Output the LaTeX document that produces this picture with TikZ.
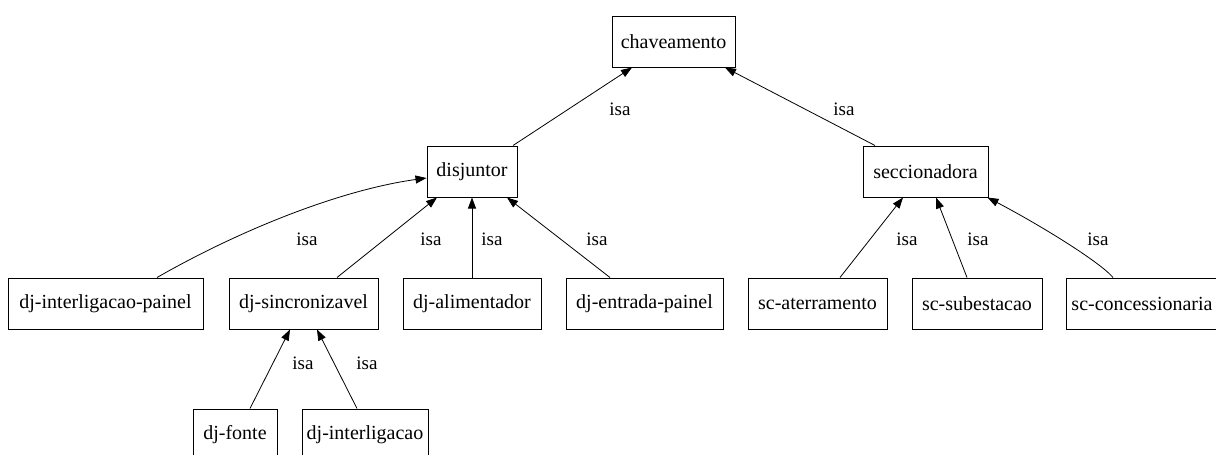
\documentclass[tikz,border=0pt]{standalone}
\usepackage{fontspec}
\setmainfont{Liberation Serif}
\usetikzlibrary{arrows.meta}
\tikzset{
  box/.style={draw=black, line width=1pt, inner sep=0pt, minimum height=51pt, font=\fontsize{20}{22}\selectfont, anchor=center},
  isaedge/.style={draw=black, line width=0.8pt, -{Triangle[length=11pt,width=8pt]}},
  lbl/.style={inner sep=0pt, font=\fontsize{19}{21}\selectfont}
}
\begin{document}
\begin{tikzpicture}[x=1pt,y=-1pt]
\useasboundingbox (0,0) rectangle (1216,455);
\clip (0,0) rectangle (1216,455);
\fill[white] (0,0) rectangle (1216,455);
% nodes
\node[box, minimum width=123pt] (chav) at (673.5,41.5) {chaveamento};
\node[box, minimum width=90pt] (disj) at (472,171.5) {disjuntor};
\node[box, minimum width=125pt] (secc) at (925.5,171.5) {seccionadora};
\node[box, minimum width=195pt] (djip) at (105.5,303.5) {dj-interligacao-painel};
\node[box, minimum width=149pt] (djs) at (303.5,303.5) {dj-sincronizavel};
\node[box, minimum width=138pt] (dja) at (472,303.5) {dj-alimentador};
\node[box, minimum width=157pt] (djep) at (644.5,303.5) {dj-entrada-painel};
\node[box, minimum width=139pt] (sca) at (817.5,303.5) {sc-aterramento};
\node[box, minimum width=130pt] (scs) at (977,303.5) {sc-subestacao};
\node[box, minimum width=164pt] (scc) at (1148,303.5) {\hspace*{-12pt}sc-concessionaria};
\node[box, minimum width=84pt] (djf) at (235,434.5) {dj-fonte};
\node[box, minimum width=126pt] (dji) at (365,434.5) {dj-interligacao};
% edges
\draw[isaedge] ([xshift=41pt]disj.north) -- ([xshift=-41.5pt]chav.south);
\draw[isaedge] ([xshift=-50.5pt]secc.north) -- ([xshift=51.5pt]chav.south);
\draw[isaedge] ([xshift=51.5pt]djip.north) .. controls (240,230) and (340,190) .. ([yshift=-6.5pt]disj.west);
\draw[isaedge] ([xshift=33.5pt]djs.north) -- ([xshift=-35pt]disj.south);
\draw[isaedge] (dja.north) -- (disj.south);
\draw[isaedge] ([xshift=-34.5pt]djep.north) -- ([xshift=35pt]disj.south);
\draw[isaedge] ([xshift=22.5pt]sca.north) -- ([xshift=-22.5pt]secc.south);
\draw[isaedge] ([xshift=-10pt]scs.north) -- ([xshift=10.5pt]secc.south);
\draw[isaedge] ([xshift=-35pt]scc.north) .. controls (1100,262) and (1040,225) .. ([xshift=-1pt]secc.south east);
\draw[isaedge] ([xshift=15pt]djf.north) -- ([xshift=-13.5pt]djs.south);
\draw[isaedge] ([xshift=-8pt]dji.north) -- ([xshift=13.5pt]djs.south);
% labels
\node[lbl] (l1) at (620,109) {isa};
\node[lbl] (l2) at (844,109) {isa};
\node[lbl] (l3) at (307,239) {isa};
\node[lbl] (l4) at (431,239) {isa};
\node[lbl] (l5) at (492,239) {isa};
\node[lbl] (l6) at (597,239) {isa};
\node[lbl] (l7) at (907,239) {isa};
\node[lbl] (l8) at (978,239) {isa};
\node[lbl] (l9) at (1098,239) {isa};
\node[lbl] (l10) at (303,363) {isa};
\node[lbl] (l11) at (367,363) {isa};
\end{tikzpicture}
\end{document}
